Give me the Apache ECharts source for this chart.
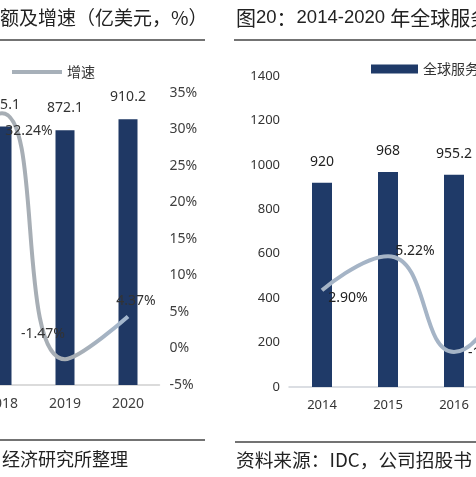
<!DOCTYPE html>
<html><head><meta charset="utf-8">
<script src="https://cdn.jsdelivr.net/npm/echarts@6/dist/echarts.min.js"></script>
<style>html,body{margin:0;padding:0;background:#fff;overflow:hidden}#c{width:476px;height:477px}</style>
</head><body><div id="c"></div>
<script>
// ---- Left chart (partially visible) ----
const leftYears = ['2017', '2018', '2019', '2020'];
const leftSales = [null, 885.1, 872.1, 910.2];          // 亿美元
const leftGrowth = [15.3, 32.24, -1.47, 4.37];           // %
const leftPctTicks = { min: -5, max: 35, interval: 5 };
const leftSalesRange = { min: 0, max: 1000 };

// ---- Right chart (partially visible) ----
const rightYears = ['2014', '2015', '2016', '2017'];
const rightSales = [920, 968, 955.2, null];              // 亿美元
const rightGrowth = [2.90, 5.22, -1.32, 5.0];            // %
const rightSalesTicks = { min: 0, max: 1400, interval: 200 };
const rightPctRange = { min: -3.7, max: 17.5 };

const leftLabelOffsets = [[0, 0], [27, 18], [-22, -25], [8, -16]];
const rightLabelOffsets = [[26, 8], [27, -5], [36, 1], [30, 0]];

const CJK = '"Noto Sans CJK SC", "Noto Sans", sans-serif';
const NUM = '"Noto Sans", "Open Sans", sans-serif';
const LAT = '"Liberation Sans", "Noto Sans CJK SC", sans-serif';

function lineData(vals, offs, fam) {
  return vals.map((v, i) => ({
    value: v,
    label: { show: true, position: 'inside', offset: offs[i], fontFamily: fam }
  }));
}

const chart = echarts.init(document.getElementById('c'), null, { renderer: 'canvas' });
chart.setOption({
  animation: false,
  backgroundColor: '#fff',
  legend: [
    { data: ['增速'], left: 7, top: 60, itemWidth: 50, itemHeight: 4, icon: 'rect',
      itemGap: 6, textStyle: { fontSize: 14, color: '#333', fontFamily: CJK } },
    { data: ['销售额'], left: -103, top: 60, itemWidth: 47, itemHeight: 9, icon: 'rect',
      textStyle: { fontSize: 14, color: '#333', fontFamily: CJK } },
    { data: ['全球服务器销售额'], left: 366, top: 57, itemWidth: 47, itemHeight: 9, icon: 'rect',
      itemGap: 6, textStyle: { fontSize: 14, color: '#333', fontFamily: CJK } }
  ],
  grid: [
    { left: -92.5, top: 93, width: 252, height: 292, outerBoundsMode: 'none' },
    { left: 289, top: 76, width: 264, height: 311, outerBoundsMode: 'none' }
  ],
  xAxis: [
    { type: 'category', gridIndex: 0, data: leftYears,
      axisLine: { lineStyle: { color: '#d0d0d0', width: 1.5 } }, axisTick: { show: false },
      axisLabel: { margin: 12, fontSize: 14, color: '#404040', fontFamily: NUM } },
    { type: 'category', gridIndex: 1, data: rightYears,
      axisLine: { lineStyle: { color: '#d0d4da', width: 1.5 } }, axisTick: { show: false },
      axisLabel: { margin: 12, fontSize: 13, color: '#333', fontFamily: NUM } }
  ],
  yAxis: [
    { type: 'value', gridIndex: 0, min: leftSalesRange.min, max: leftSalesRange.max, show: false },
    { type: 'value', gridIndex: 0, position: 'right', min: leftPctTicks.min, max: leftPctTicks.max,
      interval: leftPctTicks.interval, splitLine: { show: false }, axisLine: { show: false }, axisTick: { show: false },
      axisLabel: { formatter: '{value}%', margin: 10, fontSize: 14, color: '#404040', fontFamily: NUM } },
    { type: 'value', gridIndex: 1, min: rightSalesTicks.min, max: rightSalesTicks.max,
      interval: rightSalesTicks.interval, splitLine: { show: false }, axisLine: { show: false }, axisTick: { show: false },
      axisLabel: { formatter: v => String(v), margin: 9, fontSize: 13, color: '#333', fontFamily: NUM } },
    { type: 'value', gridIndex: 1, position: 'right', min: rightPctRange.min, max: rightPctRange.max, show: false }
  ],
  series: [
    { name: '销售额', type: 'bar', xAxisIndex: 0, yAxisIndex: 0, data: leftSales, barWidth: 19,
      itemStyle: { color: '#1f3864' },
      label: { show: true, position: 'top', distance: 15, fontSize: 14, color: '#333', fontFamily: NUM,
        formatter: p => p.value == null ? '' : String(p.value) } },
    { name: '增速', type: 'line', xAxisIndex: 0, yAxisIndex: 1, smooth: 0.5,
      data: lineData(leftGrowth, leftLabelOffsets, NUM),
      symbol: 'circle', symbolSize: 0.1,
      lineStyle: { width: 4, color: { type: 'linear', x: 0, y: 0, x2: 1, y2: 0,
        colorStops: [{ offset: 0, color: '#a7aeb5' }, { offset: 0.72, color: '#a7aeb5' }, { offset: 1, color: '#a3b8d0' }] } },
      itemStyle: { color: '#a7b0b9' },
      label: { fontSize: 14, color: '#333', formatter: p => p.value.toFixed(2) + '%' } },
    { name: '全球服务器销售额', type: 'bar', xAxisIndex: 1, yAxisIndex: 2, data: rightSales, barWidth: 20,
      itemStyle: { color: '#1f3a68' },
      label: { show: true, position: 'top', distance: 14, fontSize: 14, color: '#222', fontFamily: NUM,
        formatter: p => p.value == null ? '' : String(p.value) } },
    { name: '全球增速', type: 'line', xAxisIndex: 1, yAxisIndex: 3, smooth: 0.5,
      data: lineData(rightGrowth, rightLabelOffsets, NUM),
      symbol: 'circle', symbolSize: 0.1, lineStyle: { width: 4, color: '#a5b4c6' },
      itemStyle: { color: '#a5b4c6' },
      label: { fontSize: 14, color: '#222', formatter: p => p.value.toFixed(2) + '%' } }
  ],
  graphic: [
    { type: 'text', left: 0, top: 8, style: { text: '额及增速（亿美元，%）', font: '19px ' + CJK, fill: '#222' } },
    { type: 'line', shape: { x1: 0, y1: 40, x2: 205, y2: 40 }, style: { stroke: '#444', lineWidth: 1.5 } },
    { type: 'text', left: 236, top: 8, style: {
        text: '{c|图}{n|20}{c|：}{n|2014-2020 }{c|年全球服务器销售额及增速}',
        rich: { c: { font: '20px ' + CJK, fill: '#222' }, n: { font: '18.5px ' + LAT, fill: '#222' } } } },
    { type: 'line', shape: { x1: 234, y1: 40, x2: 476, y2: 40 }, style: { stroke: '#444', lineWidth: 1.5 } },
    { type: 'line', shape: { x1: 0, y1: 440, x2: 205, y2: 440 }, style: { stroke: '#444', lineWidth: 1.5 } },
    { type: 'text', left: 2, top: 450, style: { text: '经济研究所整理', font: '18px ' + CJK, fill: '#222' } },
    { type: 'line', shape: { x1: 235, y1: 442, x2: 476, y2: 442 }, style: { stroke: '#444', lineWidth: 1.5 } },
    { type: 'text', left: 236, top: 451, style: { text: '资料来源：IDC，公司招股书', font: '18.7px ' + CJK, fill: '#222' } }
  ]
});
</script>
</body></html>
